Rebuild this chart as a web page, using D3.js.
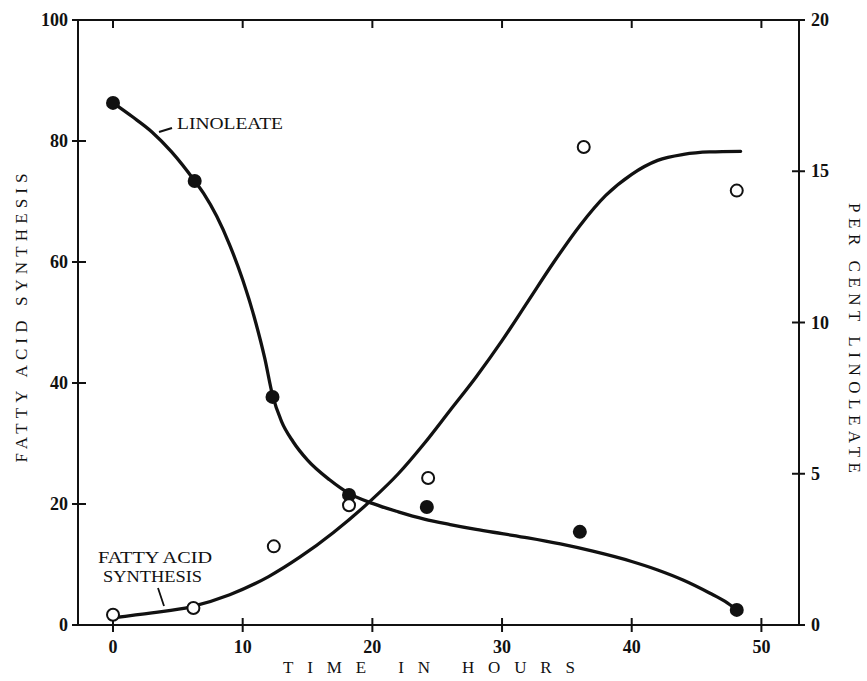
<!DOCTYPE html>
<html>
<head>
<meta charset="utf-8">
<script src="https://cdn.jsdelivr.net/npm/d3@7"></script>
<style>
  html, body { margin: 0; padding: 0; background: #fff; }
  svg { display: block; }
  text { font-family: "Liberation Serif", "DejaVu Serif", serif; fill: #111; }
</style>
</head>
<body>
<svg id="chart" width="867" height="681"></svg>
<script>
// ---- data ----
const xTicks = [0, 10, 20, 30, 40, 50];
const leftTicks = [0, 20, 40, 60, 80, 100];
const rightTicks = [0, 5, 10, 15, 20];

// filled circles: per cent linoleate (right axis)
const linoleateTime = [0, 6.3, 12.3, 18.2, 24.2, 36.0, 48.1];
const linoleatePct  = [17.26, 14.68, 7.54, 4.3, 3.9, 3.08, 0.5];

// open circles: fatty acid synthesis (left axis)
const synthesisTime = [0, 6.2, 12.4, 18.2, 24.3, 36.3, 48.1];
const synthesisVal  = [1.7, 2.8, 13.0, 19.8, 24.3, 79.0, 71.8];

// hand-drawn fitted curves (linoleate in per cent, synthesis in left-axis units)
const linoleateCurveTime = [0, 1.5, 3, 4.5, 6.3, 7, 8, 9, 10, 11, 11.7, 12.3, 13, 13.9, 15, 16.7, 18.2, 20, 22, 24, 26, 28, 30, 32, 34.5, 37, 40, 42, 44, 46, 47.2, 48.1];
const linoleateCurvePct  = [17.26, 16.8, 16.3, 15.65, 14.68, 14.26, 13.51, 12.56, 11.41, 10.01, 8.82, 7.6, 6.72, 6.05, 5.45, 4.8, 4.35, 4.02, 3.74, 3.5, 3.32, 3.16, 3.02, 2.88, 2.68, 2.44, 2.1, 1.82, 1.48, 1.06, 0.78, 0.5];

const synthesisCurveTime = [0, 3, 6, 9, 12, 14.4, 17, 20, 22, 24, 26, 28, 30, 32, 34, 36, 38, 40, 42, 44, 46, 48.4];
const synthesisCurveVal  = [1.2, 2.0, 3.0, 5.0, 8.0, 11.2, 15.3, 20.8, 25, 30, 35.5, 41, 47, 53.5, 60, 66, 71, 74.5, 76.8, 77.8, 78.2, 78.3];

// ---- layout ----
const L = 78, R = 799, T = 20, B = 625;
const svg = d3.select("#chart");

const x = d3.scaleLinear().domain([-2.7, 52.9]).range([L, R]);
const yL = d3.scaleLinear().domain([0, 100]).range([B, T]);
const yR = d3.scaleLinear().domain([0, 20]).range([B, T]);

// frame
const frame = svg.append("g").attr("stroke", "#111").attr("stroke-width", 2).attr("fill", "none");
frame.append("rect").attr("x", L).attr("y", T).attr("width", R - L).attr("height", B - T);

// bottom ticks (crossing)
frame.selectAll(".bt").data(xTicks).join("line")
  .attr("x1", d => x(d)).attr("x2", d => x(d)).attr("y1", B - 7).attr("y2", B + 7);
// top ticks (inward)
frame.selectAll(".tt").data(xTicks).join("line")
  .attr("x1", d => x(d)).attr("x2", d => x(d)).attr("y1", T).attr("y2", T + 8);
// left ticks
frame.selectAll(".lt").data(leftTicks).join("line")
  .attr("x1", L - 6).attr("x2", L + 8).attr("y1", d => yL(d)).attr("y2", d => yL(d));
// right ticks
frame.selectAll(".rt").data(rightTicks).join("line")
  .attr("x1", R - 7).attr("x2", R + 6).attr("y1", d => yR(d)).attr("y2", d => yR(d));

// tick labels
const tl = svg.append("g").attr("font-size", 18).attr("font-weight", "bold");
tl.selectAll(".bl").data(xTicks).join("text")
  .attr("x", d => x(d)).attr("y", B + 28).attr("text-anchor", "middle").text(d => d);
tl.selectAll(".ll").data(leftTicks).join("text")
  .attr("x", L - 10).attr("y", d => yL(d) + 6).attr("text-anchor", "end").text(d => d);
tl.selectAll(".rl").data(rightTicks).join("text")
  .attr("x", R + 12).attr("y", d => yR(d) + 6).attr("text-anchor", "start").text(d => d);

// axis titles
svg.append("text").attr("x", 429).attr("y", 673).attr("text-anchor", "middle")
  .attr("font-size", 17).attr("textLength", 292).attr("lengthAdjust", "spacing")
  .text("TIME IN HOURS");
svg.append("text").attr("transform", "translate(27,318) rotate(-90)").attr("text-anchor", "middle")
  .attr("font-size", 17).attr("textLength", 289).attr("lengthAdjust", "spacing")
  .text("FATTY ACID SYNTHESIS");
svg.append("text").attr("transform", "translate(849,338) rotate(90)").attr("text-anchor", "middle")
  .attr("font-size", 17).attr("textLength", 270).attr("lengthAdjust", "spacing")
  .text("PER CENT LINOLEATE");

// curves
const linoCurve = linoleateCurveTime.map((t, i) => [t, linoleateCurvePct[i]]);
const synCurve = synthesisCurveTime.map((t, i) => [t, synthesisCurveVal[i]]);

svg.append("path").datum(linoCurve)
  .attr("fill", "none").attr("stroke", "#111").attr("stroke-width", 3.3).attr("stroke-linecap", "round")
  .attr("d", d3.line().x(d => x(d[0])).y(d => yR(d[1])).curve(d3.curveMonotoneX));
svg.append("path").datum(synCurve)
  .attr("fill", "none").attr("stroke", "#111").attr("stroke-width", 3.3).attr("stroke-linecap", "round")
  .attr("d", d3.line().x(d => x(d[0])).y(d => yL(d[1])).curve(d3.curveMonotoneX));

// points
const lino = linoleateTime.map((t, i) => [t, linoleatePct[i]]);
const syn = synthesisTime.map((t, i) => [t, synthesisVal[i]]);
svg.append("g").selectAll("circle").data(lino).join("circle")
  .attr("cx", d => x(d[0])).attr("cy", d => yR(d[1])).attr("r", 7).attr("fill", "#111");
svg.append("g").selectAll("circle").data(syn).join("circle")
  .attr("cx", d => x(d[0])).attr("cy", d => yL(d[1])).attr("r", 6)
  .attr("fill", "#fff").attr("stroke", "#111").attr("stroke-width", 2);

// annotations
const ann = svg.append("g").attr("font-size", 16.5);
ann.append("text").attr("x", 177).attr("y", 129).attr("textLength", 106).attr("lengthAdjust", "spacingAndGlyphs").text("LINOLEATE");
ann.append("line").attr("x1", 159).attr("y1", 132).attr("x2", 172).attr("y2", 128)
  .attr("stroke", "#111").attr("stroke-width", 2);
ann.append("text").attr("x", 98).attr("y", 563).attr("textLength", 114).attr("lengthAdjust", "spacingAndGlyphs").text("FATTY ACID");
ann.append("text").attr("x", 103).attr("y", 582).attr("textLength", 99).attr("lengthAdjust", "spacingAndGlyphs").text("SYNTHESIS");
ann.append("line").attr("x1", 158).attr("y1", 588).attr("x2", 164).attr("y2", 606)
  .attr("stroke", "#111").attr("stroke-width", 1.8);
</script>
</body>
</html>
